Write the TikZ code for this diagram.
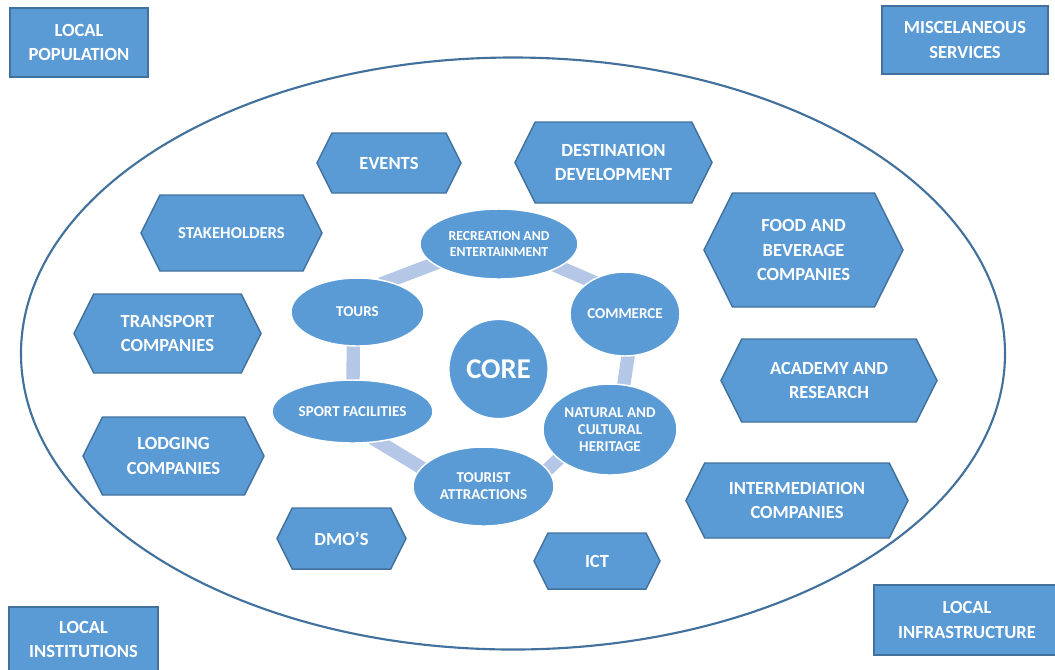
\documentclass[tikz,border=0pt]{standalone}
\usepackage{fontspec}
\setmainfont{Carlito}
\usetikzlibrary{shapes.geometric}
\pgfdeclarelayer{background}
\pgfsetlayers{background,main}
\definecolor{fillblue}{RGB}{91,155,213}
\definecolor{edgeblue}{RGB}{65,113,156}
\definecolor{barblue}{RGB}{180,199,231}
\tikzset{
  lbl/.style={text=white, font=\bfseries\fontsize{13.9}{18.4}\selectfont, align=center, inner sep=0pt},
  inl/.style={text=white, font=\bfseries\fontsize{11.3}{12.7}\selectfont, align=center, inner sep=0pt},
  hexstyle/.style={fill=fillblue, draw=edgeblue, line width=1.1pt, line join=miter},
  cbox/.style={rectangle, fill=fillblue, draw=edgeblue, line width=1.3pt, inner sep=0pt},
  ell/.style={ellipse, fill=fillblue, draw=white, line width=1.1pt, inner sep=0pt},
  bar/.style={draw=barblue, line width=10pt, shorten <=-6pt, shorten >=-6pt},
  bigell/.style={ellipse, draw=edgeblue, line width=1.6pt, inner sep=0pt}
}
\newcommand\hexbox[6]{%
  \pgfmathsetmacro\hxi{(#5-#4)/4}%
  \pgfmathsetmacro\hxm{(#4+#5)/2}%
  \draw[hexstyle] (#2,\hxm) -- (#2+\hxi,#4) -- (#3-\hxi,#4) -- (#3,\hxm) -- (#3-\hxi,#5) -- (#2+\hxi,#5) -- cycle;
  \node[lbl] (#1) at ({(#2+#3)/2},\hxm) {#6};
}
\begin{document}
\begin{tikzpicture}[x=0.75pt, y=-0.75pt]
\useasboundingbox (0,0) rectangle (1055,669);
\clip (0,0) rectangle (1055,669);

% outer ellipse
\node[bigell, minimum width=738pt, minimum height=444pt] (outer) at (513,353.5) {};

% corner boxes
\node[cbox, minimum width=103.5pt, minimum height=51.75pt] (pop) at (79,42.5) {};
\node[lbl] (popt) at (pop.center) {LOCAL\\POPULATION};
\node[cbox, minimum width=124.5pt, minimum height=51pt] (misc) at (965,40) {};
\node[lbl] (misct) at (misc.center) {MISCELANEOUS\\SERVICES};
\node[cbox, minimum width=111.75pt, minimum height=48.75pt] (inst) at (83.5,639.5) {};
\node[lbl] (instt) at (inst.center) {LOCAL\\INSTITUTIONS};
\node[cbox, minimum width=139.5pt, minimum height=52.5pt] (infra) at (967,620) {};
\node[lbl] (infrat) at (infra.center) {LOCAL\\INFRASTRUCTURE};

% hexagons
\hexbox{events}{317}{461}{133}{193}{EVENTS}
\hexbox{dest}{515}{712}{122}{203}{DESTINATION\\DEVELOPMENT}
\hexbox{stake}{141}{322}{195}{271}{\fontsize{12.5}{15}\selectfont STAKEHOLDERS}
\hexbox{transp}{74}{261}{294}{373}{TRANSPORT\\COMPANIES}
\hexbox{lodg}{83}{264}{417}{495}{LODGING\\COMPANIES}
\hexbox{dmo}{277}{406}{508}{569}{DMO’S}
\hexbox{ict}{534}{660}{533}{589}{ICT}
\hexbox{food}{704}{903}{193}{307}{FOOD AND\\BEVERAGE\\COMPANIES}
\hexbox{acad}{721}{937}{339}{422}{ACADEMY AND\\RESEARCH}
\hexbox{inter}{686}{908}{463}{538}{INTERMEDIATION\\COMPANIES}

% inner cycle
\node[ell, minimum width=118.5pt, minimum height=52.5pt,
  label={[inl, font=\bfseries\fontsize{10.3}{11.3}\selectfont]center:RECREATION AND\\ENTERTAINMENT}] (rec) at (499,244) {};
\node[ell, minimum width=82.5pt, minimum height=63pt, label={[inl]center:COMMERCE}] (com) at (625,314) {};
\node[ell, minimum width=99.75pt, minimum height=51pt, label={[inl]center:TOURS}] (tours) at (357.5,312) {};
\node[ell, circle, minimum size=74.5pt, label={[inl, font=\bfseries\fontsize{21.5}{24}\selectfont]center:CORE}] (core) at (498.5,369) {};
\node[ell, minimum width=120.75pt, minimum height=47.25pt, label={[inl]center:SPORT FACILITIES}] (sport) at (352.5,411.5) {};
\node[ell, minimum width=100.5pt, minimum height=68.25pt, label={[inl]center:NATURAL AND\\CULTURAL\\HERITAGE}] (nat) at (610,429.5) {};
\node[ell, minimum width=105.75pt, minimum height=59.25pt, label={[inl]center:TOURIST\\ATTRACTIONS}] (tour) at (483.5,486.5) {};

\begin{pgfonlayer}{background}
\draw[bar] (tours.45) -- (rec.197);
\draw[bar] (rec.-21) -- (com.136);
\draw[bar] (com.-86) -- (nat.73);
\draw[bar] (nat.210) -- (tour.15);
\draw[bar] (tour.163) -- (sport.-49);
\draw[bar] (sport.89) -- (tours.-97);
\end{pgfonlayer}
\end{tikzpicture}
\end{document}
